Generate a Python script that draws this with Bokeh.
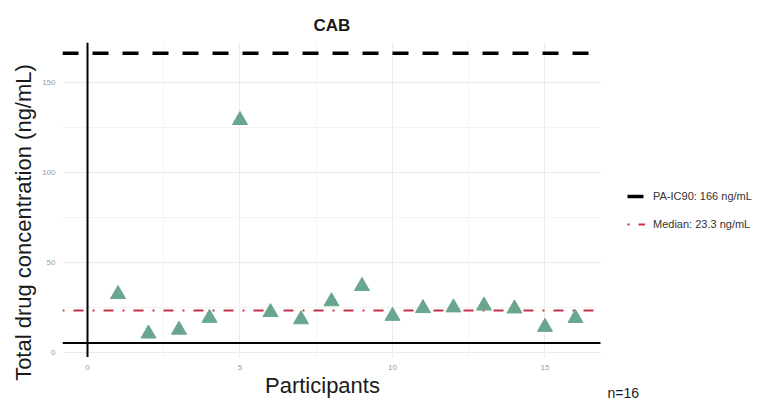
from bokeh.plotting import figure
from bokeh.models import (Range1d, Legend, LegendItem, Label, BoxAnnotation,
                          FixedTicker, Title)
from bokeh.embed import file_html
from bokeh.resources import INLINE

# Participant number and measured total CAB concentration (ng/mL)
participants = list(range(1, 17))
concentrations = [32.3, 10.4, 12.5, 19.1, 128.9, 22.3, 18.3, 28.3,
                  36.8, 20.2, 24.5, 24.9, 25.9, 24.3, 14.1, 19.0]

pa_ic90 = 166          # protein-adjusted IC90, ng/mL
median_value = 23.3    # median concentration, ng/mL
floor_line = 5.2       # solid reference line near the bottom
n_label = "n=16"

x_ticks = [0, 5, 10, 15]
x_minor = [2.5, 7.5, 12.5]
y_ticks = [0, 50, 100, 150]
y_minor = [25, 75, 125]

# extent of the data panel; the canvas to its right and below holds the
# legend, the axis texts and the sample-size note
panel_x = (-0.82, 16.82)
panel_y = (-2.5, 172)

FONT = "Liberation Sans"
POINT_COLOR = "#6aa68f"
MEDIAN_COLOR = "#c4304a"

p = figure(width=768, height=402, output_backend="svg", toolbar_location=None,
           x_range=Range1d(panel_x[0], 22.33), y_range=Range1d(-27.8, panel_y[1]),
           min_border_left=62, min_border_right=0,
           min_border_top=42, min_border_bottom=0)

p.outline_line_color = None
p.background_fill_color = "white"
p.border_fill_color = "white"

# title, centred over the data panel
p.title.text = "CAB"
p.title.align = "left"
p.title.offset = 251
p.title.text_font = FONT
p.title.text_font_size = "17px"
p.title.text_font_style = "bold"
p.title.text_color = "#1a1a1a"
p.title.standoff = 16

# axes: no lines or ticks, small grey tick labels
p.xaxis.ticker = FixedTicker(ticks=x_ticks, minor_ticks=x_minor)
p.yaxis.ticker = FixedTicker(ticks=y_ticks, minor_ticks=y_minor)
p.xaxis.fixed_location = panel_y[0]
p.xaxis.bounds = (panel_x[0], 16.22)
p.yaxis.bounds = panel_y
for ax in (p.xaxis[0], p.yaxis[0]):
    ax.axis_line_color = None
    ax.major_tick_line_color = None
    ax.minor_tick_line_color = None
    ax.major_tick_out = 0
    ax.major_tick_in = 0
    ax.minor_tick_out = 0
    ax.minor_tick_in = 0
    ax.major_label_text_font = FONT
    ax.major_label_text_font_size = "8px"
    ax.major_label_text_color = "#9a9a9a"
    ax.axis_label_text_font = FONT
    ax.axis_label_text_font_style = "normal"
    ax.axis_label_text_font_size = "22px"
    ax.axis_label_text_color = "#1a1a1a"

p.xaxis.axis_label = "Participants"
p.xaxis.major_label_standoff = 8
p.xaxis.axis_label_standoff = 0
p.yaxis.major_label_standoff = 7

# y-axis title, centred on the data panel
y_title = Title(text="Total drug concentration (ng/mL)", align="center",
                offset=41, standoff=8, text_font=FONT, text_font_size="22px",
                text_font_style="normal", text_color="#1a1a1a")
p.add_layout(y_title, "left")

# light grid with minor lines
for g in (p.xgrid[0], p.ygrid[0]):
    g.grid_line_color = "#ebebeb"
    g.grid_line_width = 1
    g.minor_grid_line_color = "#f3f3f3"
    g.minor_grid_line_width = 1

# keep the grid inside the data panel
p.add_layout(BoxAnnotation(left=panel_x[1], fill_color="white", fill_alpha=1,
                           line_color=None, level="underlay"))
p.add_layout(BoxAnnotation(top=panel_y[0], fill_color="white", fill_alpha=1,
                           line_color=None, level="underlay"))

# reference lines
p.line(x=[0, 0], y=list(panel_y), line_color="black", line_width=2)
p.line(x=list(panel_x), y=[floor_line, floor_line], line_color="black",
       line_width=2)

ic90 = p.line(x=list(panel_x), y=[pa_ic90, pa_ic90], line_color="black",
              line_width=3.5, line_dash="16 14")
med = p.line(x=list(panel_x), y=[median_value, median_value],
             line_color=MEDIAN_COLOR, line_width=2, line_dash="10 9 2 9",
             line_dash_offset=19)

p.scatter(x=participants, y=concentrations, marker="triangle", size=15,
          fill_color=POINT_COLOR, line_color=POINT_COLOR)

legend = Legend(items=[
    LegendItem(label=f"PA-IC90: {pa_ic90} ng/mL", renderers=[ic90]),
    LegendItem(label=f"Median: {median_value} ng/mL", renderers=[med]),
], location=(565, 168))
legend.border_line_color = None
legend.background_fill_alpha = 0
legend.padding = 0
legend.margin = 0
legend.spacing = 8
legend.glyph_width = 18
legend.glyph_height = 20
legend.label_height = 20
legend.label_standoff = 8
legend.label_text_font = FONT
legend.label_text_font_size = "11px"
legend.label_text_color = "#333333"
p.add_layout(legend, "center")

p.add_layout(Label(x=17.05, y=-22.8, text=n_label, text_font=FONT,
                   text_font_size="14px", text_color="#1a1a1a",
                   text_baseline="middle"))

open("out.html", "w").write(file_html(p, INLINE))
